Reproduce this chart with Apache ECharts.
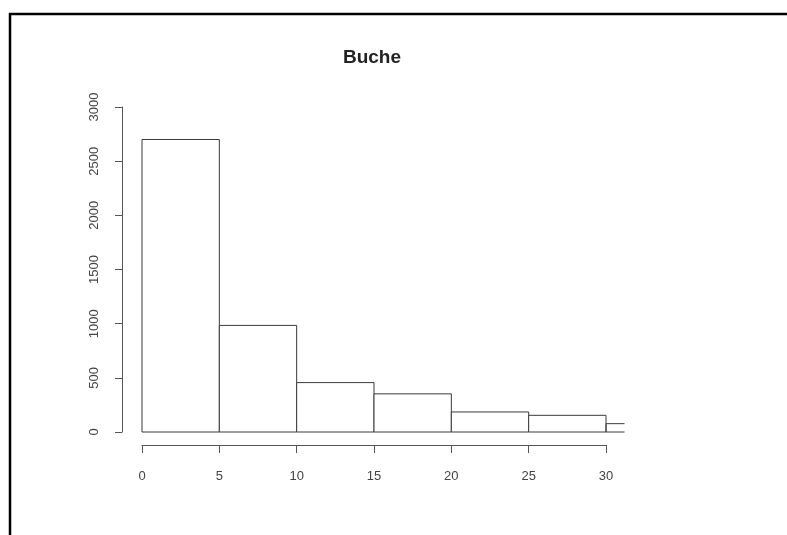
<!DOCTYPE html>
<html>
<head>
<meta charset="utf-8">
<script src="https://cdn.jsdelivr.net/npm/echarts@6/dist/echarts.min.js"></script>
<style>
html,body{margin:0;padding:0;background:#fff;}
#chart{width:787px;height:535px;}
</style>
</head>
<body>
<div id="chart"></div>
<script>
// Histogram data (bin starts, bin ends, counts)
var binStart = [0, 5, 10, 15, 20, 25, 30];
var binEnd   = [5, 10, 15, 20, 25, 30, 35];
var counts   = [2700, 984, 456, 352, 185, 154, 77];
var xTicks = [0, 5, 10, 15, 20, 25, 30];
var yTicks = [0, 500, 1000, 1500, 2000, 2500, 3000];
var titleText = 'Buche';

var xMin = 0, xMax = 30, yMin = 0, yMax = 3000;
var xClip = xMax + (xMax - xMin) * 0.04;

var data = binStart.map(function (s, i) { return [s, binEnd[i], counts[i]]; });

var chart = echarts.init(document.getElementById('chart'));
var font = '"Liberation Sans", Arial, sans-serif';
var axisColor = '#555';
var barColor = '#3a3a3a';

chart.setOption({
  backgroundColor: '#fff',
  animation: false,
  title: {
    text: titleText,
    left: 367, top: 43, textAlign: 'center',
    textStyle: { fontFamily: font, fontSize: 19, fontWeight: 'bold', color: '#222' }
  },
  grid: { left: 142, right: 181, top: 107, bottom: 103 },
  xAxis: {
    type: 'value', min: xMin, max: xMax, interval: 5, offset: 13,
    axisLine: { show: true, onZero: false, lineStyle: { color: axisColor, width: 1 } },
    axisTick: { show: true, length: 8, lineStyle: { color: axisColor } },
    axisLabel: { margin: 25, color: '#444', fontFamily: font, fontSize: 13,
      formatter: function (v) { return xTicks.indexOf(v) >= 0 ? String(v) : ''; } },
    splitLine: { show: false }
  },
  yAxis: {
    type: 'value', min: yMin, max: yMax, interval: 500, offset: 20,
    axisLine: { show: true, onZero: false, lineStyle: { color: axisColor, width: 1 } },
    axisTick: { show: true, length: 7, lineStyle: { color: axisColor } },
    axisLabel: { margin: 21, rotate: 90, color: '#444', fontFamily: font, fontSize: 13,
      formatter: function (v) { return yTicks.indexOf(v) >= 0 ? String(v) : ''; } },
    splitLine: { show: false }
  },
  series: [{
    type: 'custom',
    clip: false,
    data: data,
    encode: { x: [0, 1], y: 2 },
    renderItem: function (params, api) {
      var s = api.value(0), e = api.value(1), c = api.value(2);
      var clipped = e > xClip;
      var p0 = api.coord([s, 0]);
      var p1 = api.coord([Math.min(e, xClip), c]);
      var x0 = p0[0], y0 = p0[1], x1 = p1[0], y1 = p1[1];
      if (!clipped) {
        return {
          type: 'rect',
          shape: { x: x0, y: y1, width: x1 - x0, height: y0 - y1 },
          style: { fill: '#fff', stroke: barColor, lineWidth: 1 }
        };
      }
      return {
        type: 'polyline',
        shape: { points: [[x1, y0], [x0, y0], [x0, y1], [x1, y1]] },
        style: { fill: null, stroke: barColor, lineWidth: 1 }
      };
    }
  }],
  graphic: [
    { type: 'line', shape: { x1: 9, y1: 14, x2: 787, y2: 14 }, style: { stroke: '#000', lineWidth: 2.5 } },
    { type: 'line', shape: { x1: 10, y1: 13, x2: 10, y2: 535 }, style: { stroke: '#000', lineWidth: 2.5 } }
  ]
});
</script>
</body>
</html>
